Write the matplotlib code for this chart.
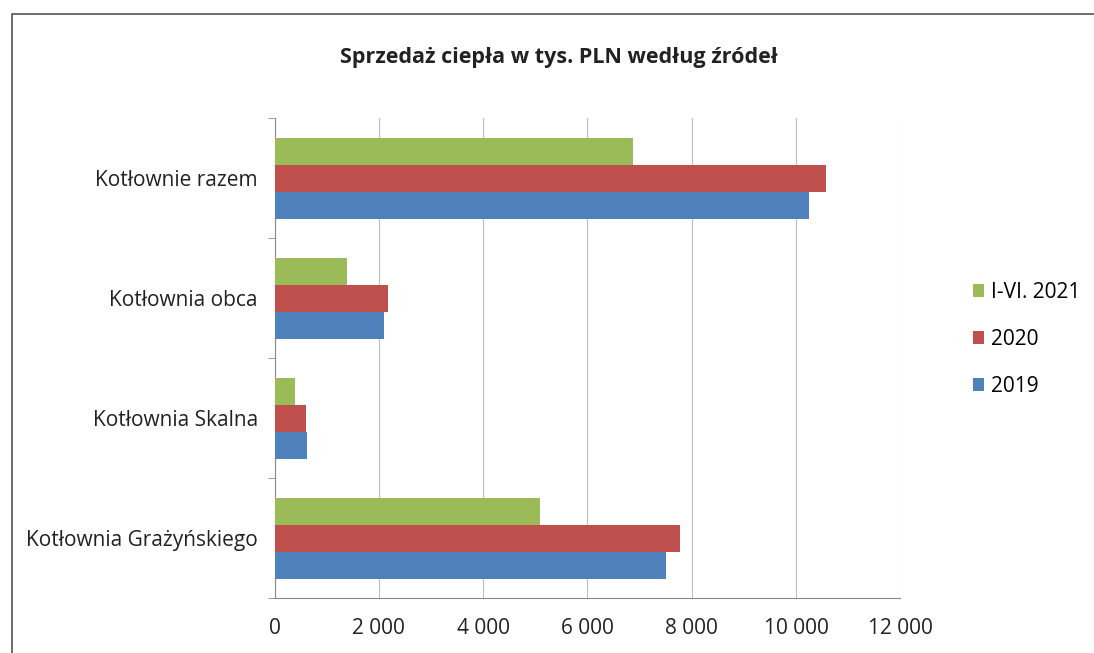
import matplotlib.pyplot as plt
import numpy as np
from matplotlib.patches import Rectangle

# Dane
kategorie = ['Kotłownia Grażyńskiego', 'Kotłownia Skalna', 'Kotłownia obca', 'Kotłownie razem']
serie = ['2019', '2020', 'I-VI. 2021']
v2019 = [7500, 620, 2100, 10250]
v2020 = [7780, 600, 2180, 10580]
v2021 = [5080, 400, 1380, 6880]
kolory = ['#4F81BD', '#C0504D', '#9BBB59']
xticks = [0, 2000, 4000, 6000, 8000, 10000, 12000]
xlabels = ['0', '2 000', '4 000', '6 000', '8 000', '10 000', '12 000']

plt.rcParams['font.family'] = ['Open Sans', 'DejaVu Sans']

fig = plt.figure(figsize=(10.94, 6.53), dpi=100)
ax = fig.add_axes([0.251, 0.084, 0.572, 0.735])

# ramka wykresu
fig.patches.append(Rectangle((0.011, -0.01), 1.0, 0.988, transform=fig.transFigure,
                             fill=False, edgecolor='#555555', linewidth=1.2))

y = np.arange(len(kategorie))
h = 0.225
for i, (vals, nazwa) in enumerate(zip([v2019, v2020, v2021], serie)):
    ax.barh(y + (i - 1) * h, vals, height=h, color=kolory[i], label=nazwa, zorder=3)

ax.set_xlim(0, 12000)
ax.set_ylim(-0.5, 3.5)
ax.set_xticks(xticks)
ax.set_xticklabels(xlabels, fontsize=15, color='#222222')
ax.set_yticks(y)
ax.set_yticklabels(kategorie, fontsize=15, color='#222222')
ax.tick_params(axis='y', length=0, pad=12)
ax.tick_params(axis='x', length=0, pad=14)
# znaczniki między kategoriami
ax.set_yticks(np.arange(-0.5, 4, 1), minor=True)
ax.tick_params(axis='y', which='minor', length=5, color='#888888')
ax.grid(axis='x', color='#BBBBBB', linewidth=0.8, zorder=0)
for s in ['top', 'right']:
    ax.spines[s].set_visible(False)
ax.spines['left'].set_color('#888888')
ax.spines['bottom'].set_color('#888888')

fig.text(0.511, 0.912, 'Sprzedaż ciepła w tys. PLN według źródeł', fontsize=15.5,
         fontweight='bold', color='#222222', ha='center', va='center')

handles, labels = ax.get_legend_handles_labels()
fig.legend(handles[::-1], labels[::-1], loc='center left', bbox_to_anchor=(0.872, 0.48),
           frameon=False, fontsize=15, handlelength=0.55, handleheight=0.55,
           labelspacing=1.25, handletextpad=0.35)

fig.savefig('out.png', dpi=100)
